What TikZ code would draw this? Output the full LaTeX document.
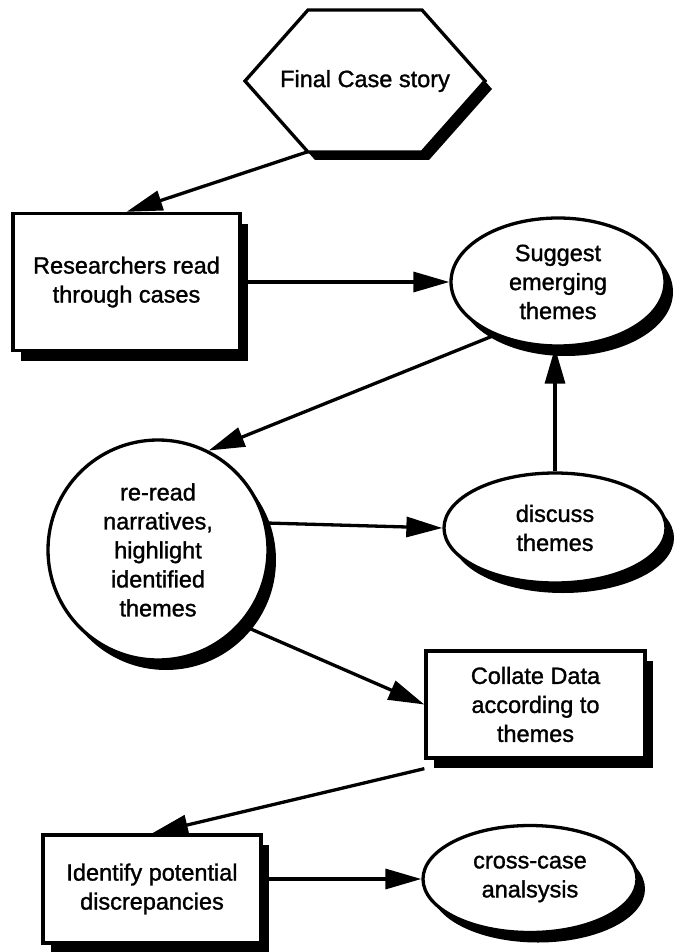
\documentclass[tikz,border=0pt]{standalone}
\usepackage{fontspec}
\setmainfont{Liberation Sans}[BoldFont=Liberation Sans, BoldFeatures={FakeBold=1.3}]
\usetikzlibrary{arrows.meta,shapes.geometric,shadows,calc}
\begin{document}
\begin{tikzpicture}[x=1pt,y=-1pt, line width=3.3pt,
  txt/.style={align=center, font=\fontsize{23.5}{29}\selectfont\bfseries, inner sep=0pt},
  shad/.style={drop shadow={shadow xshift=8pt, shadow yshift=-10pt, fill=black, opacity=1}},
  boxnode/.style={txt, draw, fill=white, rectangle, shad},
  ell/.style={txt, draw, fill=white, ellipse, shad},
  arr/.style={-{Triangle[length=36pt,width=20pt]}, line width=3.3pt}]
\useasboundingbox (0,0) rectangle (674,952);
% hexagon
\fill[shift={(7,8)}] (245,81) -- (308,10) -- (422,10) -- (485,81) -- (422,152) -- (308,152) -- cycle;
\filldraw[fill=white] (245,81) -- (308,10) -- (422,10) -- (485,81) -- (422,152) -- (308,152) -- cycle;
\node[txt] (hex) at (365,81) {Final Case story};
\coordinate (hexbl) at (307,152);
% nodes
\node[boxnode, minimum width=227pt, minimum height=137pt] (r1) at (126.5,282) {Researchers read\\through cases};
\node[ell, minimum width=214pt, minimum height=128pt] (sug) at (558,282) {Suggest\\emerging\\themes};
\node[txt, draw, fill=white, circle, shad, minimum size=220pt] (circ) at (158,550) {re-read\\narratives,\\highlight\\identified\\themes};
\node[ell, minimum width=222pt, minimum height=110pt] (disc) at (555,528) {discuss\\themes};
\node[boxnode, minimum width=219pt, minimum height=107pt] (col) at (535.5,704.5) {Collate Data\\according to\\themes};
\node[boxnode, minimum width=218pt, minimum height=108pt] (idf) at (152,889) {Identify potential\\discrepancies};
\node[ell, minimum width=214pt, minimum height=107pt] (cc) at (530,879) {cross-case\\analsysis};
% connectors
\draw[arr] (hexbl) -- (r1.north);
\draw[arr] (r1.east) -- (sug.west);
\draw[arr] (sug.220) -- (circ.63);
\draw[arr] (circ.14) -- (disc.west);
\draw[arr] (disc.north) -- (disc.north |- sug.south);
\draw[arr] (circ.-42) -- (col.west);
\coordinate (colout) at ($(col.south west)+(0,9)$);
\draw[arr] (colout) -- (idf.north);
\draw[arr] (idf.east |- cc.west) -- (cc.west);
\end{tikzpicture}
\end{document}
